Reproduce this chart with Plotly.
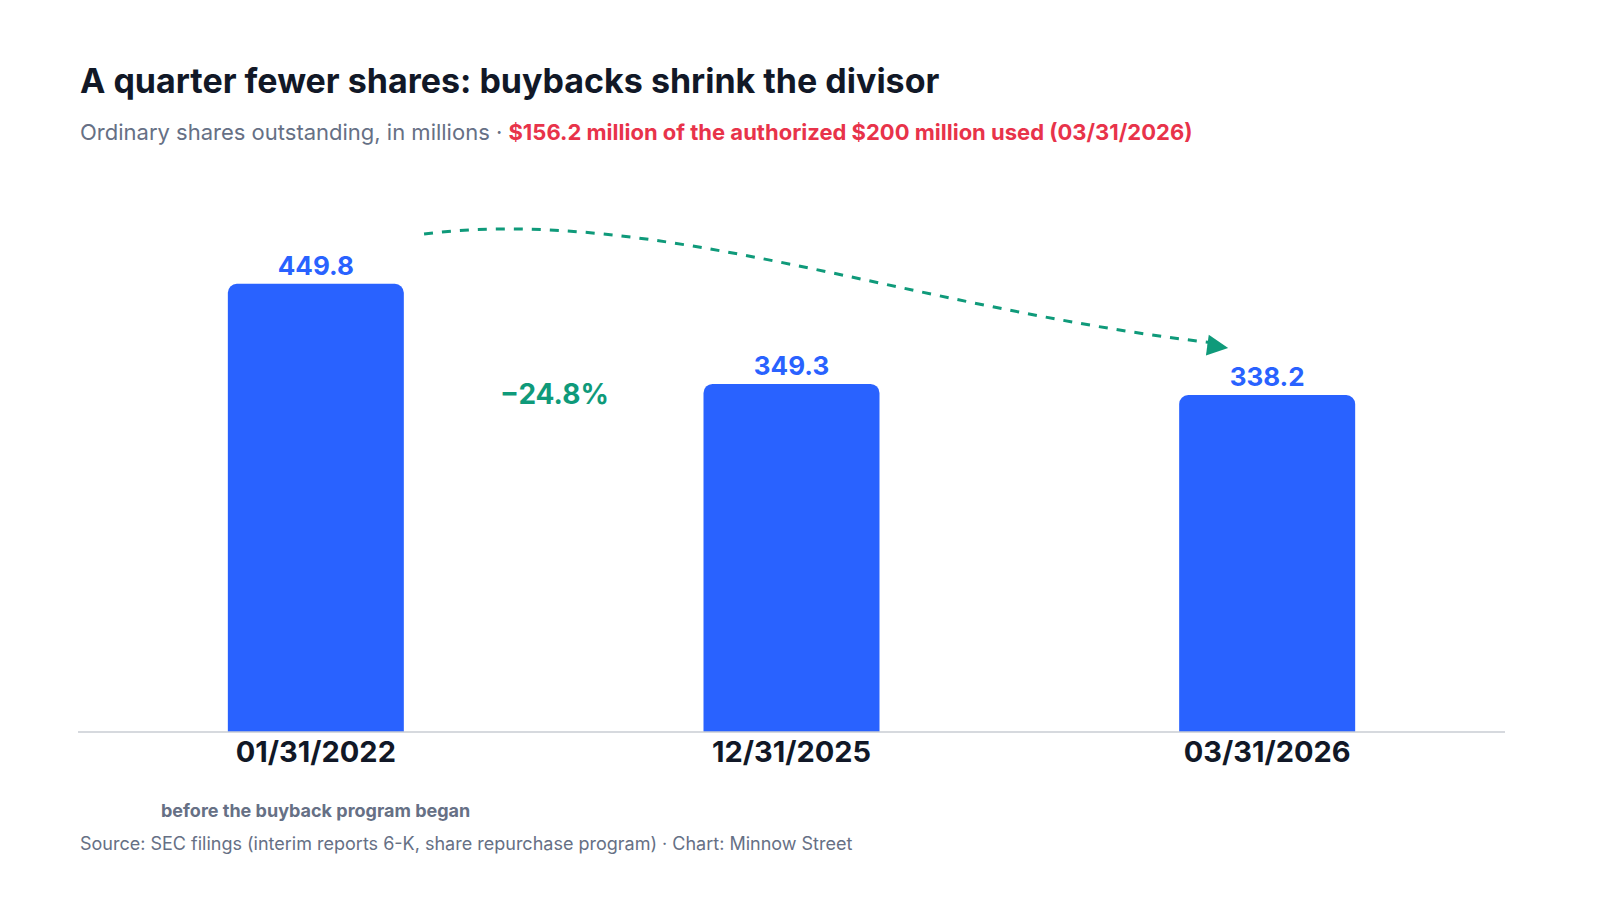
import plotly.graph_objects as go

dates = ["01/31/2022", "12/31/2025", "03/31/2026"]
shares = [449.8, 349.3, 338.2]
labels = ["449.8", "349.3", "338.2"]
change_label = "−24.8%"

BLUE = "#2962FF"; GREEN = "#0F9A7A"; RED = "#E8334A"; DARK = "#111827"; GRAY = "#667085"
F = "Inter"

def py(p):  # pixel y -> paper y (plot area 160..724)
    return (724 - p) / 564

fig = go.Figure(go.Bar(
    x=dates, y=shares, text=labels, textposition="outside",
    textfont=dict(family=F, size=26, color=BLUE, weight="bold"),
    marker=dict(color=BLUE, line=dict(width=0)), width=0.37, cliponaxis=False,
    hoverinfo="skip"))

fig.update_layout(
    width=1600, height=900, paper_bgcolor="white", plot_bgcolor="white",
    margin=dict(l=70, r=103, t=160, b=176), barcornerradius=9,
    showlegend=False, font=dict(family=F),
    xaxis=dict(showgrid=False, showline=False, ticks="", zeroline=False,
               tickfont=dict(family=F, size=29, color=DARK, weight="bold")),
    yaxis=dict(visible=False, range=[0, 566]),
)
fig.add_shape(type="line", xref="paper", yref="paper", x0=0, x1=1, y0=0, y1=0,
              line=dict(color="#C9CDD3", width=1.5))
fig.add_shape(type="path", xref="paper", yref="paper",
              path="M 0.2425,0.883 C 0.406,0.934 0.582,0.752 0.795,0.69",
              line=dict(color=GREEN, width=3, dash="dash"))
fig.add_annotation(xref="paper", yref="paper", x=0.806, y=0.681, ax=-22, ay=-3,
                   text="", showarrow=True, arrowhead=2, arrowsize=1.4,
                   arrowwidth=3, arrowcolor=GREEN)
fig.add_annotation(xref="paper", yref="paper", x=0.334, y=0.599, text=change_label,
                   showarrow=False, font=dict(family=F, size=28, color=GREEN, weight="bold"))
fig.add_annotation(xref="paper", yref="paper", x=0, y=py(73), xanchor="left",
                   yanchor="middle", showarrow=False,
                   text="<b>A quarter fewer shares: buybacks shrink the divisor</b>",
                   font=dict(family=F, size=34, color=DARK))
fig.add_annotation(xref="paper", yref="paper", x=0, y=py(124), xanchor="left",
                   yanchor="middle", showarrow=False,
                   text="Ordinary shares outstanding, in millions · <span style='color:%s'><b>$156.2 million of the authorized $200 million used (03/31/2026)</b></span>" % RED,
                   font=dict(family=F, size=22, color=GRAY))
fig.add_annotation(xref="x", yref="paper", x=dates[0], y=py(802), yanchor="middle",
                   showarrow=False, text="<b>before the buyback program began</b>",
                   font=dict(family=F, size=18, color=GRAY))
fig.add_annotation(xref="paper", yref="paper", x=0, y=py(835), xanchor="left",
                   yanchor="middle", showarrow=False,
                   text="Source: SEC filings (interim reports 6-K, share repurchase program) · Chart: Minnow Street",
                   font=dict(family=F, size=18, color=GRAY))
fig.write_html("out.html")
